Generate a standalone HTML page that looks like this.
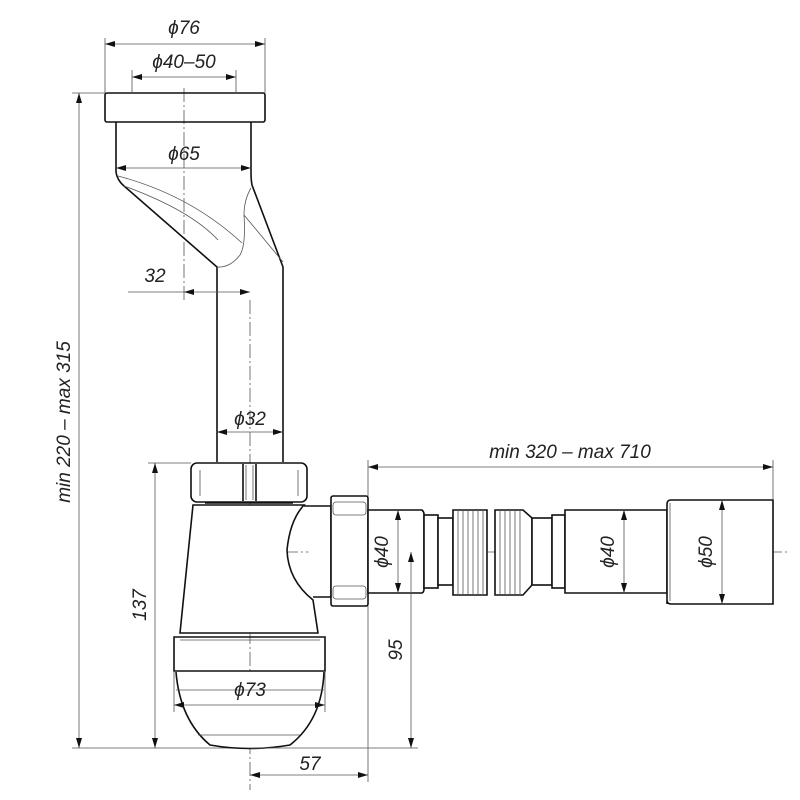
<!DOCTYPE html>
<html><head><meta charset="utf-8"><style>
html,body{margin:0;padding:0;background:#fff}
svg{display:block}
text{font-family:"Liberation Sans",sans-serif;font-style:italic;font-size:19px;fill:#222}
.k{stroke:#111;stroke-width:1.6;fill:none}
.kf{stroke:#111;stroke-width:1.6;fill:#fff}
.t{stroke:#555;stroke-width:0.8;fill:none}
.c{stroke:#555;stroke-width:0.8;fill:none;stroke-dasharray:14 3 2 3}
</style></head><body>
<svg width="800" height="800" viewBox="0 0 800 800" xmlns="http://www.w3.org/2000/svg">
<defs>
<marker id="a" viewBox="0 0 10 6" refX="10" refY="3" markerWidth="10" markerHeight="6" orient="auto-start-reverse" markerUnits="userSpaceOnUse"><path d="M0,0 L10,3 L0,6z" fill="#111"/></marker>
</defs>
<path class="c" d="M184 88 V300 M250 300 V790 M240 552 H790"/>
<rect class="k" x="105" y="93" width="160" height="29" rx="2"/>
<path class="k" d="M116 122 V172 Q117 180 124 186 L217 267 V462 M283 462 V267 L252 185 Q251 180 251 172 V122"/>
<path class="t" d="M118 176 Q190 195 242 243 M124 186 Q190 210 218 240 M251 188 Q244 200 244 215 Q246 245 240 255 Q230 268 217 267 M244 215 L283 262"/>
<path class="t" d="M105 38 V93 M265 38 V93 M132 70 V93 M236 70 V93"/>
<line class="t" x1="105" y1="44" x2="265" y2="44" marker-start="url(#a)" marker-end="url(#a)"/>
<line class="t" x1="132" y1="77" x2="236" y2="77" marker-start="url(#a)" marker-end="url(#a)"/>
<line class="t" x1="116" y1="168" x2="251" y2="168" marker-start="url(#a)" marker-end="url(#a)"/>
<line class="t" x1="128" y1="292" x2="184" y2="292"/>
<line class="t" x1="184" y1="292" x2="250" y2="292" marker-start="url(#a)" marker-end="url(#a)"/>
<line class="t" x1="217" y1="432" x2="283" y2="432" marker-start="url(#a)" marker-end="url(#a)"/>
<text x="184" y="34" text-anchor="middle">ϕ76</text>
<text x="184" y="68" text-anchor="middle">ϕ40–50</text>
<text x="184" y="160" text-anchor="middle">ϕ65</text>
<text x="155" y="282" text-anchor="middle">32</text>
<text x="250" y="425" text-anchor="middle">ϕ32</text>
<path class="t" d="M72 93 H105 M72 748 H250"/>
<line class="t" x1="79" y1="93" x2="79" y2="748" marker-start="url(#a)" marker-end="url(#a)"/>
<text transform="translate(70,422) rotate(-90)" text-anchor="middle">min 220 – max 315</text>
<path class="kf" d="M193 505 H304 Q290 520 287 550 Q288 580 313 600 L318 633 H180 Z"/>
<path class="k" d="M174 637 H325 V671 H174 Z"/>
<path class="t" d="M180 640 H320"/>
<path class="kf" d="M176 672 Q180 720 210 745 Q250 752 290 745 Q322 720 324 672"/>
<path class="t" d="M176 690 H324 M198 735 H300"/>
<rect class="kf" x="191" y="463" width="116" height="39" rx="6"/>
<path class="t" d="M200 470 V496 M298 470 V496 M246 465 V500 M253 465 V500"/>
<path class="k" d="M243 464 V501 M256 464 V501 M205 503 H293"/>
<path class="kf" d="M304 506 H331 V597 H313"/>
<rect class="kf" x="331" y="496" width="37" height="110" rx="2"/>
<rect class="t" x="333" y="502" width="33" height="13" rx="3"/>
<rect class="t" x="333" y="586" width="33" height="13" rx="3"/>
<path class="kf" d="M368 510 H422 Q424 512 424 514 V589 Q424 592 422 593 H368 Z"/>
<rect class="kf" x="424" y="515" width="14" height="73"/>
<rect class="kf" x="438" y="518" width="15" height="67"/>
<path class="kf" d="M453 510 H487 V595 H453 Z"/>
<path class="t" d="M458 510 V595 M463 510 V595 M468 510 V595 M473 510 V595 M478 510 V595 M483 510 V595"/>
<path class="kf" d="M495 510 H523 L532 518 V585 L523 595 H495 Z"/>
<path class="t" d="M500 510 V595 M505 510 V595 M510 510 V595 M515 510 V595 M520 510 V595"/>
<rect class="kf" x="532" y="518" width="20" height="67"/>
<rect class="kf" x="552" y="515" width="13" height="73"/>
<path class="kf" d="M565 510 H667 V593 H565 Z"/>
<path class="kf" d="M667 604 V504 Q667 500 671 500 H773 V604 H671 Q667 604 667 600"/>
<path class="t" d="M670 503 V601"/>
<path class="t" d="M773 460 V500 M368 460 V496"/>
<line class="t" x1="368" y1="467" x2="773" y2="467" marker-start="url(#a)" marker-end="url(#a)"/>
<text x="570" y="458" text-anchor="middle">min 320 – max 710</text>
<line class="t" x1="398" y1="510" x2="398" y2="593" marker-start="url(#a)" marker-end="url(#a)"/>
<line class="t" x1="624" y1="510" x2="624" y2="593" marker-start="url(#a)" marker-end="url(#a)"/>
<line class="t" x1="722" y1="500" x2="722" y2="604" marker-start="url(#a)" marker-end="url(#a)"/>
<text transform="translate(388,552) rotate(-90)" text-anchor="middle">ϕ40</text>
<text transform="translate(614,552) rotate(-90)" text-anchor="middle">ϕ40</text>
<text transform="translate(712,552) rotate(-90)" text-anchor="middle">ϕ50</text>
<path class="t" d="M148 463 H191"/>
<line class="t" x1="155" y1="463" x2="155" y2="748" marker-start="url(#a)" marker-end="url(#a)"/>
<text transform="translate(146,605) rotate(-90)" text-anchor="middle">137</text>
<path class="t" d="M250 748 H418"/>
<line class="t" x1="411" y1="552" x2="411" y2="748" marker-start="url(#a)" marker-end="url(#a)"/>
<text transform="translate(402,650) rotate(-90)" text-anchor="middle">95</text>
<path class="t" d="M174 672 V712 M325 672 V712"/>
<line class="t" x1="174" y1="705" x2="325" y2="705" marker-start="url(#a)" marker-end="url(#a)"/>
<text x="250" y="696" text-anchor="middle">ϕ73</text>
<path class="t" d="M368 606 V782"/>
<line class="t" x1="250" y1="775" x2="368" y2="775" marker-start="url(#a)" marker-end="url(#a)"/>
<text x="310" y="770" text-anchor="middle">57</text>
</svg>
</body></html>
